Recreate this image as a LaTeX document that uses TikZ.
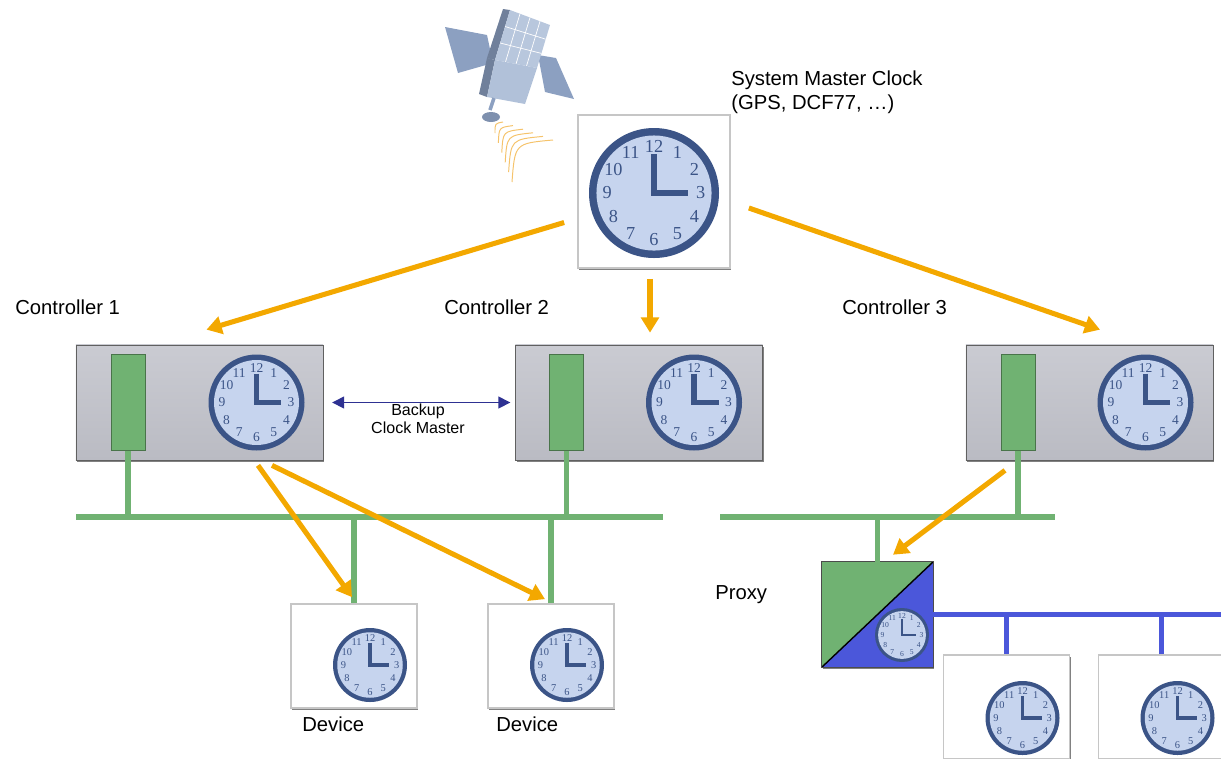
\documentclass[tikz,border=0pt]{standalone}
\usepackage{fontspec}
\setmainfont{Liberation Sans}
\newfontfamily\clockfont{Liberation Serif}
\usetikzlibrary{arrows.meta,shadows,positioning,calc}

\definecolor{rim}{RGB}{59,84,135}
\definecolor{dial}{RGB}{198,212,238}
\definecolor{netgreen}{RGB}{112,178,114}
\definecolor{netblue}{RGB}{75,87,218}
\definecolor{syncorange}{RGB}{243,168,0}
\definecolor{backupblue}{RGB}{46,49,146}
\definecolor{boxtop}{RGB}{202,203,210}
\definecolor{boxbot}{RGB}{186,187,195}
\definecolor{satblue}{RGB}{140,160,193}
\definecolor{satlight}{RGB}{184,199,221}
\definecolor{wave}{RGB}{245,195,107}

\tikzset{
  tag/.style={font=\fontsize{14.4}{17}\selectfont, anchor=west, inner sep=0pt, align=left},
  smalltag/.style={font=\fontsize{11.4}{12.8}\selectfont, inner sep=0pt, align=center},
  ctrlbox/.style={rectangle, minimum width=6.175cm, minimum height=2.875cm,
    top color=boxtop, bottom color=boxbot, draw=gray!75!black, line width=.5pt,
    drop shadow={shadow xshift=.8pt, shadow yshift=-1.4pt, fill=black!70, opacity=.7}},
  devbox/.style={rectangle, minimum width=3.15cm, minimum height=2.6cm,
    fill=white, draw=gray!45, line width=1.2pt,
    drop shadow={shadow xshift=.8pt, shadow yshift=-1.4pt, fill=black!70, opacity=.7}},
  masterbox/.style={devbox, minimum width=3.8cm, minimum height=3.83cm},
  proxybox/.style={rectangle, minimum width=2.775cm, minimum height=2.625cm,
    drop shadow={shadow xshift=.8pt, shadow yshift=-1.4pt, fill=black!70, opacity=.7}},
  port/.style={rectangle, minimum width=0.85cm, minimum height=2.4cm,
    fill=netgreen, draw=netgreen!65!black, line width=.5pt},
  bus/.style={netgreen, line width=3.8pt},
  bluebus/.style={netblue, line width=3.8pt},
  syncarrow/.style={draw=syncorange, line width=3.6pt,
    -{Triangle[length=0.38cm, width=0.44cm]}},
  backup/.style={draw=backupblue, line width=1pt,
    {Triangle[length=0.3cm, width=0.3cm]}-{Triangle[length=0.3cm, width=0.3cm]}},
  pics/clock/.style={code={
    \pgfmathsetmacro\clkfs{0.2*#1}
    \pgfmathsetmacro\clkw{0.075*#1}
    \fill[rim] (0,0) circle (#1);
    \fill[dial] (0,0) circle ({0.885*#1});
    \foreach \h in {1,...,12}
      \node[text=rim, inner sep=0pt, font=\clockfont\fontsize{\clkfs}{\clkfs}\selectfont]
        at ({30*\h-90}:{0.72*#1}) {\h};
    \draw[rim, line width=\clkw pt, line join=miter] (0,{-0.6*#1}) -- (0,0) -- ({0.52*#1},0);
  }}
}

\begin{document}
\begin{tikzpicture}[x=0.025cm, y=-0.025cm]
\useasboundingbox (0,0) rectangle (1221,758);

% satellite
\fill[satblue] (445,27) -- (487,35) -- (493,63) -- (458,73) -- cycle;
\fill[satblue] (538,55) -- (556,58) -- (574,99) -- (545,92) -- cycle;
\fill[satblue!80!black] (510,10) -- (503,9) -- (487,58) -- (495,60) -- cycle;
\fill[satlight] (510,10) -- (550,25) -- (537,68) -- (495,60) -- cycle;
\foreach \s in {0.25,0.5,0.75}
  \draw[white, line width=.5pt] ($(510,10)!\s!(550,25)$) -- ($(495,60)!\s!(537,68)$);
\foreach \s in {0.33,0.66}
  \draw[white, line width=.5pt] ($(510,10)!\s!(495,60)$) -- ($(550,25)!\s!(537,68)$);
\fill[satblue!80!black] (495,60) -- (487,58) -- (479,94) -- (487,97) -- cycle;
\fill[satlight!85!satblue] (495,60) -- (537,68) -- (525,104) -- (487,97) -- cycle;
\draw[satblue, line width=2.5pt] (494,98) -- (490,110);
\fill[satblue!90!black] (491,117) ellipse (9 and 5);
% signal
\foreach \t in {0,0.2,0.4,0.6,0.8,1} {
  \pgfmathsetmacro\ax{503+50*\t}
  \pgfmathsetmacro\ay{122+18*\t}
  \pgfmathsetmacro\bx{495+17*\t}
  \pgfmathsetmacro\by{133+49*\t}
  \pgfmathsetmacro\cc{0.3*veclen(\ax-\bx,\ay-\by)}
  \draw[wave, line width=.7pt] (\ax,\ay) .. controls ({(\ax+\bx)/2-\cc},{(\ay+\by)/2-\cc}) .. (\bx,\by);
}

% master clock
\node[masterbox] (master) at (654,191.5) {};
\pic at ([shift={(0,1.5)}]master.center) {clock=65};
\node[tag] (lblM) at (731,92) {System Master Clock\\(GPS, DCF77, …)};

% controllers
\node[ctrlbox] (ctrlA) at (199.5,402.5) {};
\node[port, right=0.875cm of ctrlA.west] (portA) {};
\pic at ([shift={(57,0)}]ctrlA.center) {clock=48};
\node[ctrlbox] (ctrlB) at (639,402.5) {};
\node[port, right=0.85cm of ctrlB.west] (portB) {};
\pic at ([shift={(55,0)}]ctrlB.center) {clock=48};
\node[ctrlbox] (ctrlC) at (1089.5,402.5) {};
\node[port, right=0.875cm of ctrlC.west] (portC) {};
\pic at ([shift={(56,0)}]ctrlC.center) {clock=48};

\node[tag] (lblA) at (15,307) {Controller 1};
\node[tag] (lblB) at (444,307) {Controller 2};
\node[tag] (lblC) at (842,307) {Controller 3};

% devices
\node[devbox] (dev1) at (354,656) {};
\pic at ([shift={(16,9)}]dev1.center) {clock=37};
\node[devbox] (dev2) at (551,656) {};
\pic at ([shift={(16,9)}]dev2.center) {clock=37};
\node[tag] (lblD1) at (302,724) {Device};
\node[tag] (lblD2) at (496,724) {Device};

% proxy and its devices
\node[proxybox] (proxy) at (877.5,614.5) {};
\fill[netgreen] (proxy.north west) -- (proxy.north east) -- (proxy.south west) -- cycle;
\fill[netblue] (proxy.north east) -- (proxy.south east) -- (proxy.south west) -- cycle;
\draw[line width=1pt] (proxy.south west) -- (proxy.north east);
\draw[gray!60!black, line width=.5pt] (proxy.north west) rectangle (proxy.south east);
\pic at ([shift={(24.5,20.5)}]proxy.center) {clock=27};
\node[tag] (lblP) at (715,595) {Proxy};

\node[devbox] (dev3) at (1006.5,707) {};
\pic at ([shift={(16,11)}]dev3.center) {clock=37};
\node[devbox] (dev4) at (1161.5,707) {};
\pic at ([shift={(16,11)}]dev4.center) {clock=37};

% green networks
\coordinate (busAw) at (76,517);
\coordinate (busAe) at (663,517);
\draw[bus] (busAw) -- (busAe);
\draw[bus] (portA.south) -- (portA.south |- busAw);
\draw[bus] (portB.south) -- (portB.south |- busAw);
\draw[bus] (dev1.north) -- (dev1.north |- busAw);
\draw[bus] (dev2.north) -- (dev2.north |- busAw);
\coordinate (busCw) at (720,517);
\coordinate (busCe) at (1055,517);
\draw[bus] (busCw) -- (busCe);
\draw[bus] (portC.south) -- (portC.south |- busCw);
\draw[bus] (proxy.north) -- (proxy.north |- busCw);

% blue network behind the proxy
\coordinate (busDe) at (1221,614.5);
\draw[bluebus] (proxy.east) -- (busDe);
\draw[bluebus] (dev3.north) -- (dev3.north |- busDe);
\draw[bluebus] (dev4.north) -- (dev4.north |- busDe);

% time distribution
\draw[syncarrow] ([shift={(-13,31)}]master.west) -- ([shift={(7,-15)}]ctrlA.north);
\draw[syncarrow] ([shift={(-4,10)}]master.south) -- ([shift={(11,-12)}]ctrlB.north);
\draw[syncarrow] ([shift={(18,16.5)}]master.east) -- ([shift={(10.5,-15)}]ctrlC.north);
\draw[syncarrow] ([shift={(58.5,5)}]ctrlA.south) -- ([shift={(-2,-6)}]dev1.north);
\draw[syncarrow] ([shift={(72.5,5)}]ctrlA.south) -- ([shift={(-6,-4)}]dev2.north);
\draw[syncarrow] ([shift={(-84.5,10)}]ctrlC.south) -- ([shift={(15.5,-7)}]proxy.north);

\draw[backup, shorten <=0.22cm, shorten >=0.12cm] (ctrlA.east) -- (ctrlB.west);
\node[smalltag] (lblBk) at (418,419) {Backup\\Clock Master};
\end{tikzpicture}
\end{document}
